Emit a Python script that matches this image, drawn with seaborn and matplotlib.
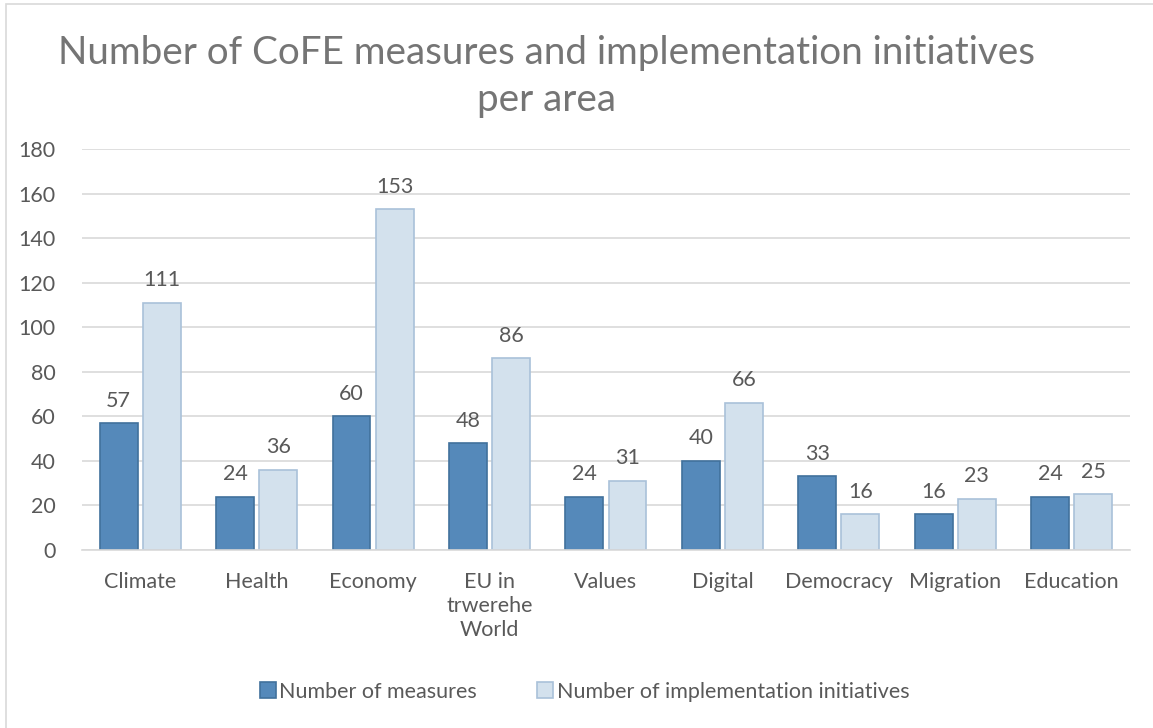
import matplotlib
matplotlib.use("Agg")
import matplotlib.pyplot as plt
import matplotlib.patches as mpatches
import pandas as pd
import seaborn as sns

# Data
areas = ["Climate", "Health", "Economy", "EU in\ntrwerehe\nWorld", "Values",
         "Digital", "Democracy", "Migration", "Education"]
measures = [57, 24, 60, 48, 24, 40, 33, 16, 24]
initiatives = [111, 36, 153, 86, 31, 66, 16, 23, 25]
series_names = ["Number of measures", "Number of implementation initiatives"]
y_ticks = [0, 20, 40, 60, 80, 100, 120, 140, 160, 180]

TEXT = "#595959"
GRID = "#D9D9D9"
FILL = ["#5589BA", "#D3E1ED"]
EDGE = ["#41719C", "#A9C1D9"]

df = pd.DataFrame({
    "area": areas * 2,
    "value": measures + initiatives,
    "series": [series_names[0]] * len(areas) + [series_names[1]] * len(areas),
})

sns.set_theme(style="white")
plt.rcParams["font.family"] = ["Lato", "DejaVu Sans"]

fig = plt.figure(figsize=(11.53, 7.28), dpi=100)
ax = fig.add_axes([0.0711, 0.2445, 0.9089, 0.5508])

sns.barplot(
    data=df, x="area", y="value", hue="series", hue_order=series_names,
    order=areas, palette=FILL, saturation=1, width=0.74, gap=0.12, ax=ax,
    legend=False,
)
for container, edge in zip(ax.containers, EDGE):
    for bar in container:
        bar.set_edgecolor(edge)
        bar.set_linewidth(1.2)
    ax.bar_label(container, padding=9, fontsize=15.5, color=TEXT)

ax.set_ylim(0, 180)
ax.set_yticks(y_ticks)
ax.set_xlim(-0.5, len(areas) - 0.5)
ax.grid(axis="y", color=GRID, linewidth=1.2)
ax.set_axisbelow(True)
for side in ["top", "right", "left"]:
    ax.spines[side].set_visible(False)
ax.spines["bottom"].set_color(GRID)
ax.spines["bottom"].set_linewidth(1.2)
ax.tick_params(axis="both", length=0, labelsize=15.5, colors=TEXT)
ax.tick_params(axis="x", pad=16)
ax.tick_params(axis="y", pad=19)
for lbl in ax.get_xticklabels():
    lbl.set_linespacing(1.25)
    lbl.set_verticalalignment("top")
ax.set_xlabel("")
ax.set_ylabel("")

fig.text(0.474, 0.895, "Number of CoFE measures and implementation initiatives\nper area",
         ha="center", va="center", fontsize=27.8, color="#757575",
         linespacing=1.35)

handles = [mpatches.Patch(facecolor=f, edgecolor=e, linewidth=1.2, label=n)
           for f, e, n in zip(FILL, EDGE, series_names)]
fig.legend(handles=handles, loc="center", bbox_to_anchor=(0.507, 0.05), ncol=2,
           frameon=False, fontsize=15.5, labelcolor=TEXT, handlelength=0.75,
           handleheight=0.8, handletextpad=0.15, columnspacing=2.8)

# outer chart frame
fig.patches.append(mpatches.Rectangle((0.005, -0.01), 1.2, 1.005, transform=fig.transFigure,
                                      fill=False, edgecolor=GRID, linewidth=1.2))

fig.savefig("out.png", dpi=100)
plt.close(fig)
